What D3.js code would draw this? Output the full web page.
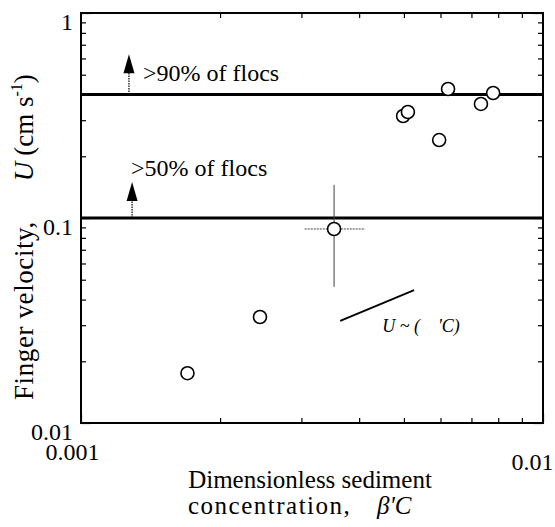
<!DOCTYPE html>
<html>
<head>
<meta charset="utf-8">
<script src="https://cdn.jsdelivr.net/npm/d3@7"></script>
<style>
  body { margin: 0; background: #fff; }
  svg, svg text { font-family: "Liberation Serif", "Times New Roman", serif; }
  .tick text { font-size: 24px; fill: #000; }
  .domain { display: none; }
</style>
</head>
<body>
<svg id="chart"></svg>
<script>
// data
var betaC = [0.0017, 0.00244, 0.00353, 0.00498, 0.0051, 0.00596, 0.00623, 0.00734, 0.0078];
var fingerU = [0.0175, 0.0329, 0.0884, 0.3145, 0.329, 0.240, 0.426, 0.360, 0.407];
var errIndex = 2;
var errX = [0.00305, 0.00412];
var errY = [0.0461, 0.145];
var thresholds = [0.4, 0.1];
var thresholdLabels = [">90% of flocs", ">50% of flocs"];
var arrowX = [0.00127, 0.00129];
var arrowTip = [0.63, 0.15];
var slopeX = [0.00364, 0.00526];
var slopeY = [0.0315, 0.0445];
var xMajor = [0.001, 0.01];
var yMajor = [0.01, 0.1, 1];

var W = 555, H = 527;
var pLeft = 81, pRight = 543, pTop = 13, pBottom = 423;

var svg = d3.select("#chart")
  .attr("width", W)
  .attr("height", H);

var x = d3.scaleLog().domain([0.001, 0.01]).range([pLeft, pRight]);
var y = d3.scaleLog().domain([0.01, 1]).range([pBottom, pTop]);

function minorTicks(lo, hi) {
  var out = [];
  for (var d = lo; d < hi * 0.999; d *= 10) {
    for (var k = 2; k <= 9; k++) out.push(d * k);
  }
  return out;
}
var xMinor = minorTicks(0.001, 0.01);
var yMinor = minorTicks(0.01, 1);

// ticks, all pointing inward
svg.append("g").attr("transform", "translate(0," + pBottom + ")")
  .call(d3.axisBottom(x).tickValues(xMinor).tickSize(-5).tickFormat(""));
svg.append("g").attr("transform", "translate(0," + pTop + ")")
  .call(d3.axisTop(x).tickValues(xMinor).tickSize(-5).tickFormat(""));
svg.append("g").attr("transform", "translate(" + pLeft + ",0)")
  .call(d3.axisLeft(y).tickValues(yMinor).tickSize(-5).tickFormat(""));
svg.append("g").attr("transform", "translate(" + pRight + ",0)")
  .call(d3.axisRight(y).tickValues(yMinor).tickSize(-5).tickFormat(""));
svg.append("g").attr("transform", "translate(" + pRight + ",0)")
  .call(d3.axisRight(y).tickValues(yMajor).tickSize(-9).tickFormat(""));

var xAx = svg.append("g").attr("transform", "translate(0," + pBottom + ")")
  .call(d3.axisBottom(x).tickValues(xMajor).tickSize(-9).tickPadding(0)
    .tickFormat(d => d === 0.001 ? "0.001" : "0.01"));
xAx.selectAll(".tick text")
  .attr("dx", d => d === 0.001 ? -9 : -11)
  .attr("dy", d => d === 0.001 ? 37 : 47);

var yAx = svg.append("g").attr("transform", "translate(" + pLeft + ",0)")
  .call(d3.axisLeft(y).tickValues(yMajor).tickSize(-9).tickPadding(8)
    .tickFormat(d => d === 1 ? "1" : d === 0.1 ? "0.1" : "0.01"));
yAx.selectAll(".tick text").attr("dy", 16.5);

svg.selectAll("g").attr("font-family", null).attr("font-size", null);
svg.selectAll(".tick line").attr("stroke", "#000").attr("stroke-width", 1.2);

// frame
svg.append("rect")
  .attr("x", pLeft).attr("y", pTop)
  .attr("width", pRight - pLeft).attr("height", pBottom - pTop)
  .attr("fill", "none").attr("stroke", "#000").attr("stroke-width", 2);

// threshold lines
svg.selectAll(".thresh").data(thresholds).enter().append("line")
  .attr("x1", pLeft).attr("x2", pRight)
  .attr("y1", d => y(d)).attr("y2", d => y(d))
  .attr("stroke", "#000").attr("stroke-width", 3);

// arrows
thresholds.forEach(function(t, i) {
  var ax = x(arrowX[i]), tip = y(arrowTip[i]);
  svg.append("line")
    .attr("x1", ax).attr("x2", ax)
    .attr("y1", y(t)).attr("y2", tip + 16)
    .attr("stroke", "#000").attr("stroke-width", 1.2)
    .attr("stroke-dasharray", "1.5,1");
  svg.append("path")
    .attr("d", "M" + ax + "," + tip + "L" + (ax + 5.5) + "," + (tip + 19) + "L" + (ax - 5.5) + "," + (tip + 19) + "Z")
    .attr("fill", "#000");
});
svg.append("text").attr("x", x(arrowX[0]) + 14).attr("y", y(thresholds[0]) - 14)
  .attr("font-size", 24).text(thresholdLabels[0]);
svg.append("text").attr("x", x(arrowX[1]) - 1).attr("y", y(thresholds[1]) - 42)
  .attr("font-size", 24).text(thresholdLabels[1]);

// error bars
svg.append("line")
  .attr("x1", x(errX[0])).attr("x2", x(errX[1]))
  .attr("y1", y(fingerU[errIndex])).attr("y2", y(fingerU[errIndex]))
  .attr("stroke", "#444").attr("stroke-width", 1)
  .attr("stroke-dasharray", "2,1");
svg.append("line")
  .attr("x1", x(betaC[errIndex])).attr("x2", x(betaC[errIndex]))
  .attr("y1", y(errY[0])).attr("y2", y(errY[1]))
  .attr("stroke", "#444").attr("stroke-width", 1);

// points
svg.selectAll(".pt").data(betaC).enter().append("circle")
  .attr("class", "pt")
  .attr("cx", d => x(d))
  .attr("cy", (d, i) => y(fingerU[i]))
  .attr("r", 6.5)
  .attr("fill", "#fff")
  .attr("stroke", "#000")
  .attr("stroke-width", 1.6);

// slope indicator
svg.append("line")
  .attr("x1", x(slopeX[0])).attr("y1", y(slopeY[0]))
  .attr("x2", x(slopeX[1])).attr("y2", y(slopeY[1]))
  .attr("stroke", "#000").attr("stroke-width", 1.8);
svg.append("text")
  .attr("x", x(slopeX[0]) + 42).attr("y", y(slopeY[0]) + 11)
  .attr("font-size", 18).attr("font-style", "italic")
  .style("white-space", "pre")
  .text("U ~ (    'C)");

// axis titles
svg.append("text").attr("text-anchor", "middle").attr("font-size", 25)
  .attr("x", 310).attr("y", 488).text("Dimensionless sediment");
svg.append("text").attr("font-size", 25)
  .attr("x", 188).attr("y", 514).attr("letter-spacing", 1.5)
  .text("concentration,");
svg.append("text").attr("font-size", 25).attr("font-style", "italic")
  .attr("x", 377).attr("y", 514).text("\u03B2'C");

var yt = svg.append("text").attr("font-size", 27)
  .attr("transform", "translate(33,400) rotate(-90)");
yt.append("tspan").attr("letter-spacing", 0.6).text("Finger velocity,");
yt.append("tspan").attr("dx", 40).attr("font-style", "italic").text("U");
yt.append("tspan").attr("dx", 6).text("(cm s");
yt.append("tspan").attr("font-size", 16).attr("dy", -11).text("-1");
yt.append("tspan").attr("dy", 11).text(")");
</script>
</body>
</html>
